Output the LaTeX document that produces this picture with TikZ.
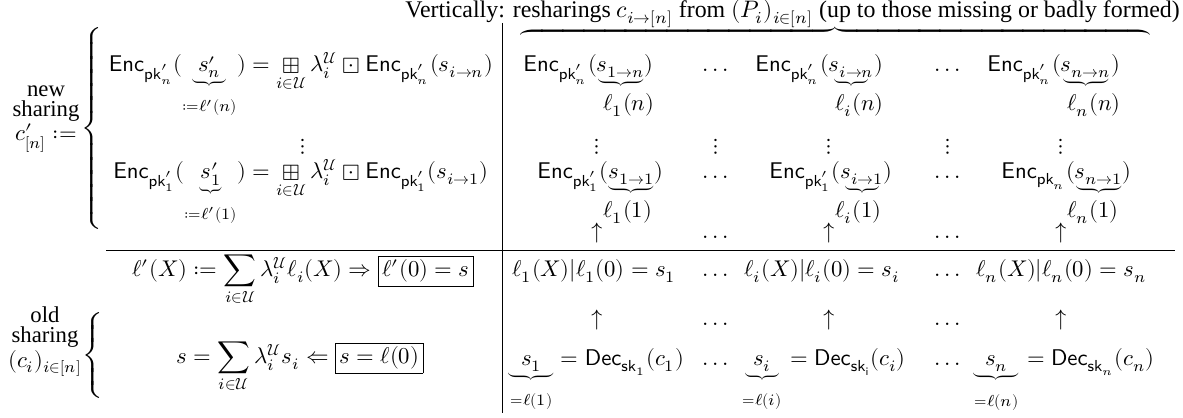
\documentclass[tikz,border=0pt]{standalone}
\usepackage{amsmath}
\usepackage{fontspec}
\usepackage{unicode-math}
\setmainfont{Liberation Serif}
\setmathfont{Latin Modern Math}
\setlength{\fboxsep}{1.5pt}

\newcommand{\poly}{\ell}
\newcommand{\Enc}{\mathsf{Enc}}
\newcommand{\Dec}{\mathsf{Dec}}
\newcommand{\pk}{\mathsf{pk}}
\newcommand{\sk}{\mathsf{sk}}
\newcommand{\setU}{\mathcal{U}}
\newcommand{\hdts}{\mathord{.}\,\mathord{.}\,\mathord{.}}

\begin{document}
\begin{tikzpicture}[
  x=0.44pt, y=-0.44pt,
  cell/.style={anchor=base, inner sep=0pt},
  lcell/.style={anchor=base west, inner sep=0pt},
  side/.style={align=center, inner sep=0pt, font=\fontsize{10}{8.8}\selectfont},
  rule/.style={line width=0.4pt}
]
\useasboundingbox (0,0) rectangle (1183,418);

% title and top brace
\node[lcell, font=\fontsize{10.5}{12}\selectfont] (title) at (405,18) {Vertically: resharings $c_{i\to[n]}$ from $(P_i)_{i\in[n]}$ (up to those missing or badly formed)};
\node[inner sep=0pt] (top) at (835,37) {$\overbrace{\hspace{277pt}}$};

% rules
\coordinate (vtop) at (502,23);
\coordinate (vbot) at (502,413);
\coordinate (hl) at (106,250);
\coordinate (hr) at (1175,250);
\draw[rule] (vtop) -- (vbot);
\draw[rule] (hl) -- (hr);

% left braces and their labels
\node[inner sep=0pt] (bnew) at (93,126) {$\left\{\rule{0pt}{49.5pt}\right.$};
\node[side] (new) at (46,119) {new\\sharing\\$c'_{[n]}\mathrel{:}=$};
\node[inner sep=0pt] (bold) at (94,353) {$\left\{\rule{0pt}{23.7pt}\right.$};
\node[side] (old) at (45,342) {old\\sharing\\$(c_i)_{i\in[n]}$};

% left column
\node[cell] (l1) at (301,72) {$\Enc_{\pk'_n}(\underbrace{\;s'_n\;}_{\rule{0pt}{9.5pt}\mathrel{:}=\poly'(n)}) = \mathop{\boxplus}\limits_{i\in\setU}\lambda_i^{\setU}\boxdot\Enc_{\pk'_n}(s_{i\to n})$};
\node[cell] (lv) at (303,153) {$\vdots$};
\node[cell] (l2) at (301,179) {$\Enc_{\pk'_1}(\underbrace{\;s'_1\;}_{\rule{0pt}{9.5pt}\mathrel{:}=\poly'(1)}) = \mathop{\boxplus}\limits_{i\in\setU}\lambda_i^{\setU}\boxdot\Enc_{\pk'_1}(s_{i\to 1})$};
\node[cell] (l3) at (303,277) {$\poly'(X)\mathrel{:}=\displaystyle\sum_{i\in\setU}\lambda_i^{\setU}\poly_i(X)\Rightarrow\boxed{\poly'(0)=s}$};
\node[cell] (l4) at (300,364) {$s=\displaystyle\sum_{i\in\setU}\lambda_i^{\setU}s_i\Leftarrow\boxed{s=\poly(0)}$};

% right part, first row of resharings
\node[lcell] (e1n) at (523,72) {$\Enc_{\pk'_n}(\underbrace{s_{1\to n}})$};
\node[cell] (d1n) at (716,72) {$\hdts$};
\node[lcell] (ein) at (755,72) {$\Enc_{\pk'_n}(\underbrace{s_{i\to n}})$};
\node[cell] (d2n) at (948,72) {$\hdts$};
\node[lcell] (enn) at (987,72) {$\Enc_{\pk'_n}(\underbrace{s_{n\to n}})$};
\node[lcell] (f1n) at (603,111) {$\poly_1(n)$};
\node[lcell] (fin) at (835,111) {$\poly_i(n)$};
\node[lcell] (fnn) at (1067,111) {$\poly_n(n)$};

% vertical dots
\foreach \x/\nm in {597/a,716/b,829/c,948/d,1061/e}
  \node[cell] (v\nm) at (\x,153) {$\vdots$};

% second row of resharings
\node[lcell] (e11) at (537,179) {$\Enc_{\pk'_1}(\underbrace{s_{1\to 1}})$};
\node[cell] (d11) at (716,179) {$\hdts$};
\node[lcell] (ei1) at (769,179) {$\Enc_{\pk'_1}(\underbrace{s_{i\to 1}})$};
\node[cell] (d21) at (948,179) {$\hdts$};
\node[lcell] (en1) at (1001,179) {$\Enc_{\pk_n}(\underbrace{s_{n\to 1}})$};
\node[lcell] (f11) at (603,218) {$\poly_1(1)$};
\node[lcell] (fi1) at (835,218) {$\poly_i(1)$};
\node[lcell] (fn1) at (1067,218) {$\poly_n(1)$};

% arrows up to the resharings
\node[cell] (ua1) at (597,239) {$\uparrow$};
\node[cell] (ud1) at (716,239) {$\hdts$};
\node[cell] (uai) at (829,239) {$\uparrow$};
\node[cell] (ud2) at (948,239) {$\hdts$};
\node[cell] (uan) at (1061,239) {$\uparrow$};

% old shares
\node[lcell] (p1) at (512,277) {$\poly_1(X)|\poly_1(0)=s_1$};
\node[cell] (pd1) at (716,277) {$\hdts$};
\node[lcell] (pi) at (744,277) {$\poly_i(X)|\poly_i(0)=s_i$};
\node[cell] (pd2) at (948,277) {$\hdts$};
\node[lcell] (pn) at (976,277) {$\poly_n(X)|\poly_n(0)=s_n$};

\node[cell] (ub1) at (597,326) {$\uparrow$};
\node[cell] (ubd1) at (716,326) {$\hdts$};
\node[cell] (ubi) at (829,326) {$\uparrow$};
\node[cell] (ubd2) at (948,326) {$\hdts$};
\node[cell] (ubn) at (1061,326) {$\uparrow$};

% decryptions
\node[lcell] (s1) at (508,366) {$\underbrace{\;\;s_1\;\;}_{\rule{0pt}{9.5pt}=\poly(1)}=\Dec_{\sk_1}(c_1)$};
\node[cell] (sd1) at (716,366) {$\hdts$};
\node[lcell] (si) at (740,366) {$\underbrace{\;\;s_i\;\;}_{\rule{0pt}{9.5pt}=\poly(i)}=\Dec_{\sk_{\mathsf{i}}}(c_i)$};
\node[cell] (sd2) at (948,366) {$\hdts$};
\node[lcell] (sn) at (972,366) {$\underbrace{\;\;s_n\;\;}_{\rule{0pt}{9.5pt}=\poly(n)}=\Dec_{\sk_n}(c_n)$};
\end{tikzpicture}
\end{document}
